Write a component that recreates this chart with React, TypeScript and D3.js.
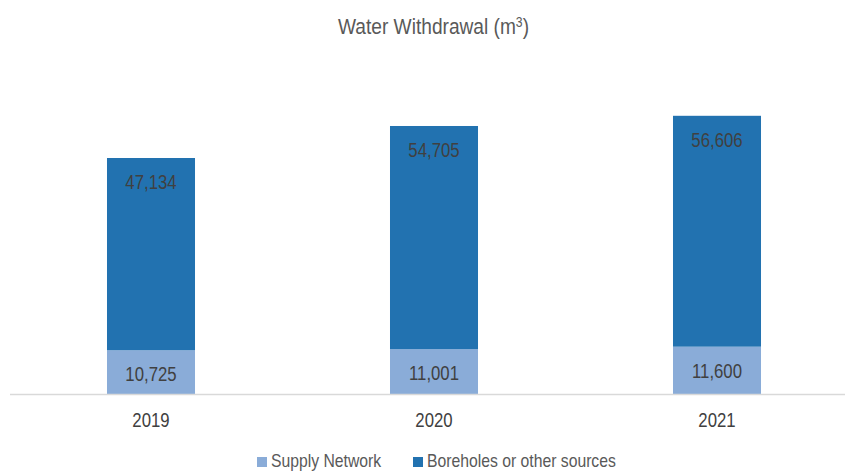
import React, { useEffect, useRef } from "react";
import * as d3 from "d3";

const years = ["2019", "2020", "2021"];
const supply = [10725, 11001, 11600];
const boreholes = [47134, 54705, 56606];
const seriesNames = ["Supply Network", "Boreholes or other sources"];
const colors = ["#8AACD8", "#2272B0"];

const App: React.FC = () => {
  const svgRef = useRef<SVGSVGElement>(null);
  const width = 845;
  const height = 472;

  useEffect(() => {
    const svg = d3.select(svgRef.current);
    svg.selectAll("*").remove();
    const font = "'Liberation Sans', Arial, sans-serif";
    const sx = 0.86; // the source font is condensed

    const x = d3.scaleBand<string>()
      .domain(years)
      .range([9.5, 858.5])
      .paddingInner(0.689)
      .paddingOuter(0.3445);
    const baseY = 394;
    const y = d3.scaleLinear().domain([0, 57859]).range([baseY, 158]);

    const rows = years.map((yr, i) => ({ year: yr, supply: supply[i], boreholes: boreholes[i] }));
    const stack = d3.stack<any>().keys(["supply", "boreholes"])(rows);

    const title = svg.append("text")
      .attr("transform", `translate(433.5,34) scale(0.87,1)`)
      .attr("text-anchor", "middle")
      .attr("font-family", font).attr("font-size", 22)
      .attr("fill", "#595959");
    title.append("tspan").text("Water Withdrawal (m");
    title.append("tspan").attr("baseline-shift", "super").attr("font-size", 14).text("3");
    title.append("tspan").text(")");

    stack.forEach((layer, li) => {
      const g = svg.append("g");
      g.selectAll("rect").data(layer).join("rect")
        .attr("x", (d: any) => x(d.data.year)!)
        .attr("width", x.bandwidth())
        .attr("y", (d: any) => y(d[1]))
        .attr("height", (d: any) => y(d[0]) - y(d[1]))
        .attr("fill", colors[li]);
      g.selectAll("text").data(layer).join("text")
        .attr("transform", (d: any) =>
          `translate(${x(d.data.year)! + x.bandwidth() / 2},${y(d[1]) + 31}) scale(${sx},1)`)
        .attr("text-anchor", "middle")
        .attr("font-family", font).attr("font-size", 19.5)
        .attr("fill", "#404040")
        .text((d: any) => d3.format(",")(d[1] - d[0]));
    });

    svg.append("line")
      .attr("x1", 10).attr("x2", width)
      .attr("y1", baseY + 0.5).attr("y2", baseY + 0.5)
      .attr("stroke", "#d9d9d9").attr("stroke-width", 1.5);

    svg.append("g").selectAll("text").data(years).join("text")
      .attr("transform", (d) => `translate(${x(d)! + x.bandwidth() / 2},427) scale(${sx},1)`)
      .attr("text-anchor", "middle")
      .attr("font-family", font).attr("font-size", 19.5)
      .attr("fill", "#404040")
      .text((d) => d);

    const legendX = [257, 413];
    const lg = svg.append("g");
    seriesNames.forEach((name, i) => {
      lg.append("rect")
        .attr("x", legendX[i]).attr("y", 457)
        .attr("width", 10).attr("height", 10)
        .attr("fill", colors[i]);
      lg.append("text")
        .attr("transform", `translate(${legendX[i] + 14},467) scale(0.9,1)`)
        .attr("font-family", font).attr("font-size", 17.5)
        .attr("fill", "#595959")
        .text(name);
    });
  }, []);

  return (
    <svg
      ref={svgRef}
      width={width}
      height={height}
      style={{ position: "absolute", left: 0, top: 0, background: "#fff" }}
    />
  );
};

export default App;
